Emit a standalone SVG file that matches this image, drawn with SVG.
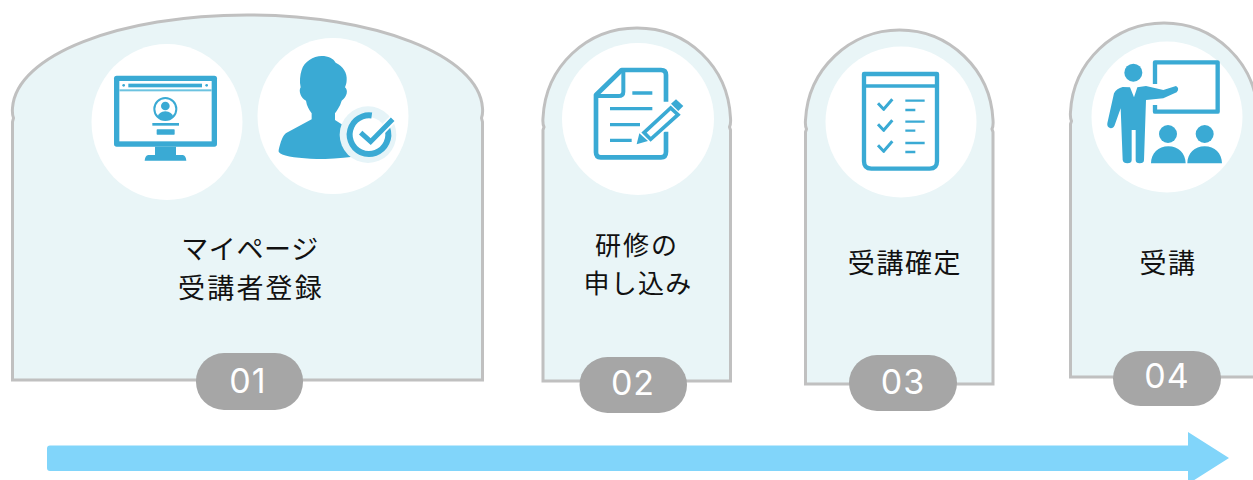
<svg xmlns="http://www.w3.org/2000/svg" width="1253" height="480" viewBox="0 0 1253 480">
<style>
.panel{fill:#e9f5f7;stroke:#c0c0c0;stroke-width:3}
.disc{fill:#fff}
.pill{fill:#a6a6a6}
.ic{fill:#3aaad4}
.st{fill:none;stroke:#3aaad4;stroke-linejoin:round}
.wh{fill:#fff}
.lbl{font-family:"Noto Sans CJK JP","Noto Sans CJK SC",sans-serif;font-size:27px;letter-spacing:1.6px;fill:#111;text-anchor:middle}
.num{font-family:Inter,"Liberation Sans",sans-serif;font-size:34px;letter-spacing:1px;fill:#fff;text-anchor:middle}
</style>
<g id="step-01">
<path class="panel" d="M12.500 380V122L13.500 118Q12 114 12.500 108C16 55 120 15 247 15S479 55 482.500 108Q483 114 481.500 118L482.500 122V380Z"/>
<ellipse class="disc" cx="167" cy="122" rx="75.500" ry="78"/>
<ellipse class="disc" cx="333" cy="116" rx="75.500" ry="78"/>
<g transform="scale(.33333)">
<rect class="ic" x="342" y="227" width="309" height="213" rx="8"/>
<rect class="wh" x="358" y="243" width="277" height="181"/>
<rect class="ic" x="385" y="251" width="221" height="11"/>
<circle class="ic" cx="371" cy="256" r="4"/><circle class="ic" cx="620" cy="256" r="4"/>
<rect x="358" y="268" width="277" height="6" fill="#6cc3e0"/>
<circle class="st" cx="496" cy="327" r="33" stroke-width="6"/>
<circle class="ic" cx="496" cy="318" r="13"/>
<path class="ic" d="M473 350Q476 336 496 334Q516 336 520 350Q496 366 473 350Z"/>
<rect class="ic" x="457" y="369" width="80" height="8"/>
<rect class="ic" x="470" y="388" width="54" height="16" rx="2"/>
<path class="ic" d="M465 440H528V465H548Q558 467 559 482H434Q435 467 445 465H465Z"/>
<path class="ic" d="M965 168C985 168 1000 175 1007 188C1030 198 1042 220 1040 240C1040 250 1037 256 1035 262C1045 270 1042 290 1025 302C1020 320 1010 332 1005 340V360L1060 395V470Q1000 477 950 477C900 476 855 470 840 460Q834 456 836 450C842 425 848 405 860 398L935 358V340C928 330 920 318 918 302C902 295 895 272 902 262C898 245 900 225 905 210C912 185 940 168 965 168Z"/>
<circle cx="1104" cy="404" r="85" fill="#e6f4f8"/>
<circle class="wh" cx="1107" cy="404" r="52"/>
<circle class="st" cx="1107" cy="404" r="58" stroke-width="18" stroke-dasharray="300 65" transform="rotate(-20 1107 404)"/>
<path d="M1082 398L1112 425L1178 358" fill="none" stroke="#fff" stroke-width="25"/>
<path d="M1082 398L1112 425L1178 358" fill="none" stroke="#3aaad4" stroke-width="15"/>
</g>
<text class="lbl"><tspan x="250" y="259" letter-spacing=".6">マイページ</tspan><tspan x="251" y="298" letter-spacing="2.200">受講者登録</tspan></text>
<rect class="pill" x="196" y="353" width="107" height="57" rx="28"/>
<text class="num" x="248" y="393">01</text>
</g>
<g id="step-02">
<path class="panel" d="M543 381V130L544 127Q542.500 124 543 118C545.500 66 587 28 637 28S728 66 730.500 118Q731 124 729.500 127L730.500 130V381Z"/>
<circle class="disc" cx="638" cy="119" r="76"/>
<g transform="translate(530 20) scale(.33333)">
<path class="st" stroke-width="14" d="M408 245V165Q408 150 393 150H275L198 225V397Q198 412 212 412H393Q408 412 408 395V335"/>
<path class="st" stroke-width="12" d="M198 228H265Q280 228 280 215V150"/>
<path class="st" stroke-width="10" d="M307 219H367M240 266H367M240 314H330M240 361H305"/>
<path d="M342 338L422 262L446 284L362 360Z" fill="#fff" stroke="#fff" stroke-width="18"/>
<path d="M342 338L422 264L444 284L362 358Z" fill="#fff" stroke="#3aaad4" stroke-width="11" stroke-linejoin="miter"/>
<path class="ic" d="M423 251L438 238L460 258L445 273Z"/>
<path class="ic" d="M320 373L328 340L354 363Z"/>
</g>
<text class="lbl" style="font-size:26px"><tspan x="637" y="254.500" letter-spacing="2">研修の</tspan><tspan x="638" y="292.500" letter-spacing="1.200">申し込み</tspan></text>
<rect class="pill" x="579.500" y="357" width="107.500" height="56" rx="28"/>
<text class="num" x="633" y="395">02</text>
</g>
<g id="step-03">
<path class="panel" d="M805.500 384V132L806.500 129Q805 126 805.500 120C808 69 850 30 899.500 30S990.500 69 993 120Q993.500 126 992 129L993 132V384Z"/>
<circle class="disc" cx="901" cy="122" r="75.500"/>
<g transform="translate(530 20) scale(.33333)">
<path class="st" stroke-width="13" stroke-linejoin="miter" d="M1002 162H1221V424Q1221 446 1199 446H1024Q1002 446 1002 424Z"/>
<path class="st" stroke-width="10" d="M1002 198H1221"/>
<path class="st" stroke-width="9" d="M1044 250L1061 268L1087 238M1044 313L1061 331L1087 301M1044 376L1061 394L1087 364"/>
<path class="st" stroke-width="7" d="M1126 242H1184M1126 270H1156M1126 305H1184M1126 332H1156M1126 369H1184M1126 396H1156"/>
</g>
<text class="lbl" x="905" y="273" letter-spacing="2">受講確定</text>
<rect class="pill" x="849" y="355" width="108" height="56" rx="28"/>
<text class="num" x="903" y="394">03</text>
</g>
<g id="step-04">
<path class="panel" d="M1070.500 377V124L1071.500 121Q1070 118 1070.500 112C1073 62 1114 23 1164 23S1255 62 1257.500 112V377Z"/>
<circle class="disc" cx="1167" cy="117" r="75.500"/>
<g transform="translate(1050 10) scale(.33333)">
<path class="st" stroke-width="13" stroke-linejoin="miter" d="M315 222V157H503V305H315V285"/>
<circle class="ic" cx="250" cy="188" r="27"/>
<path class="ic" d="M218 231Q200 235 192 250L172 340Q170 352 182 355Q192 355 195 343L212 295L218 450Q220 460 232 460Q245 460 245 450V360H257V450Q257 460 269 460Q282 460 282 450L288 270L340 265L380 247Q390 235 378 228L340 240L288 228L262 232L252 262L240 232Z"/>
<rect class="wh" x="245" y="228" width="14" height="6"/>
<circle class="ic" cx="354" cy="372" r="27"/><circle class="ic" cx="464" cy="372" r="27"/>
<path class="ic" d="M303 460C303 430 325 409 355 409S407 430 407 460ZM412 460C412 430 434 409 464 409S516 430 516 460Z"/>
</g>
<text class="lbl" x="1168" y="273" letter-spacing="2">受講</text>
<rect class="pill" x="1113" y="351" width="108" height="55" rx="27.500"/>
<text class="num" x="1167" y="388">04</text>
</g>
<g id="connectors">
<path d="M50 445.500H1188V432L1229 458L1188 484V471H50Q47 471 47 468V448.500Q47 445.500 50 445.500Z" fill="#81d5fa"/>
</g>
</svg>
